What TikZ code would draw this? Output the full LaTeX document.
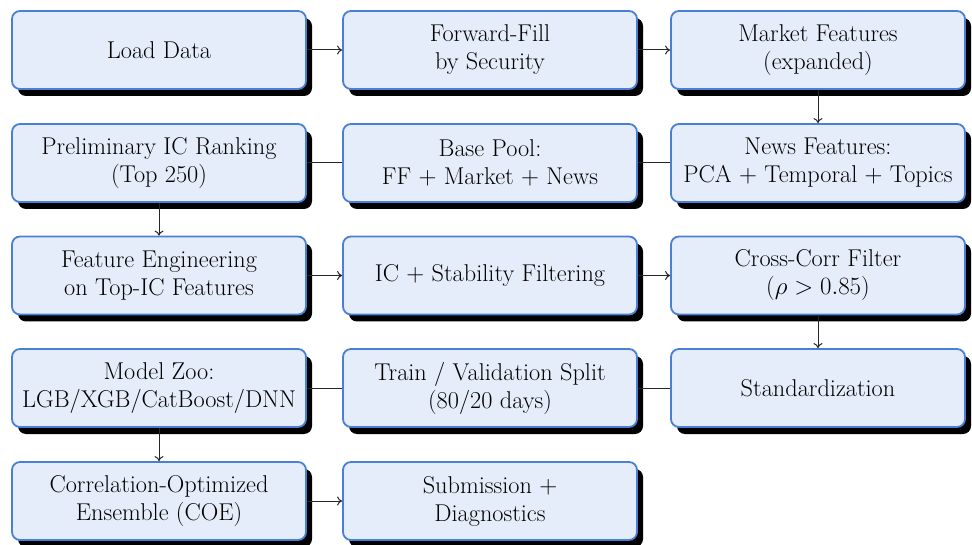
\documentclass[tikz,border=0pt]{standalone}
\usetikzlibrary{shadows,arrows.meta}
\definecolor{boxfill}{HTML}{E6EDFA}
\definecolor{boxline}{HTML}{4A7FD6}
\begin{document}
\begin{tikzpicture}[x=1pt,y=-1pt,
  box/.style={draw=boxline, line width=1.8pt, fill=boxfill, rounded corners=8pt,
    minimum width=294pt, minimum height=78pt, inner sep=2pt, align=center,
    font=\fontsize{24.3}{28}\selectfont,
    drop shadow={shadow xshift=6pt, shadow yshift=-7pt, fill=black, opacity=1}},
  conn/.style={line width=1pt, draw=black!85},
  arr/.style={conn, -{To[length=5pt,width=9pt]}}]
\useasboundingbox (0,0) rectangle (972,545);
\def\cA{159}\def\cB{490}\def\cC{818}
\def\rA{50}\def\rB{163}\def\rC{275.5}\def\rD{388}\def\rE{501}
\node[box] (load) at (\cA,\rA) {Load Data};
\node[box] (ffill) at (\cB,\rA) {Forward-Fill\\by Security};
\node[box] (mkt) at (\cC,\rA) {Market Features\\(expanded)};
\node[box] (prelim) at (\cA,\rB) {Preliminary IC Ranking\\(Top 250)};
\node[box] (base) at (\cB,\rB) {Base Pool:\\FF $+$ Market $+$ News};
\node[box] (news) at (\cC,\rB) {News Features:\\PCA $+$ Temporal $+$ Topics};
\node[box] (feng) at (\cA,\rC) {Feature Engineering\\on Top-IC Features};
\node[box] (icstab) at (\cB,\rC) {IC $+$ Stability Filtering};
\node[box] (xcorr) at (\cC,\rC) {Cross-Corr Filter\\($\rho > 0.85$)};
\node[box] (zoo) at (\cA,\rD) {Model Zoo:\\LGB/XGB/CatBoost/DNN};
\node[box] (split) at (\cB,\rD) {Train / Validation Split\\(80/20 days)};
\node[box] (std) at (\cC,\rD) {Standardization};
\node[box] (coe) at (\cA,\rE) {Correlation-Optimized\\Ensemble (COE)};
\node[box] (sub) at (\cB,\rE) {Submission $+$\\Diagnostics};
\draw[arr] (load) -- (ffill);
\draw[arr] (ffill) -- (mkt);
\draw[arr] (mkt) -- (news);
\draw[conn] (news) -- (base);
\draw[conn] (base) -- (prelim);
\draw[arr] (prelim) -- (feng);
\draw[arr] (feng) -- (icstab);
\draw[arr] (icstab) -- (xcorr);
\draw[arr] (xcorr) -- (std);
\draw[conn] (std) -- (split);
\draw[conn] (split) -- (zoo);
\draw[arr] (zoo) -- (coe);
\draw[arr] (coe) -- (sub);
\end{tikzpicture}
\end{document}
